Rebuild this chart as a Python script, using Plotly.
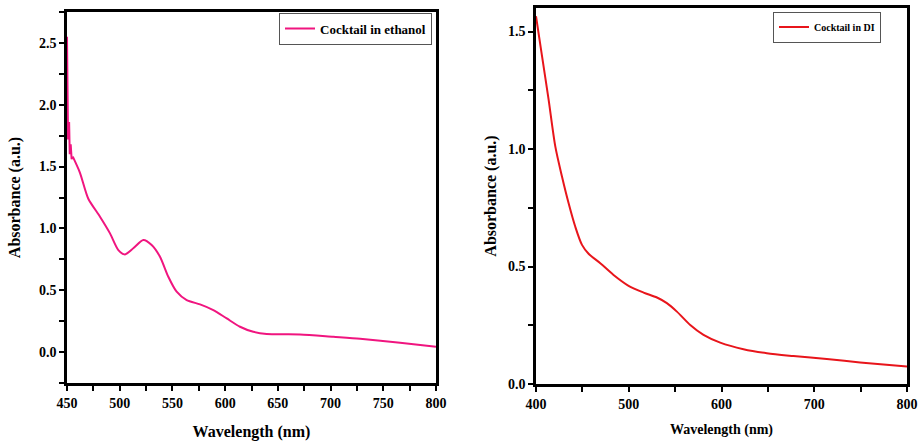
import plotly.graph_objects as go

# Cocktail in ethanol: noisy onset (450-456 nm) and smooth band (455-800 nm)
eth_noise_wl = [450, 450.5, 451, 452, 452.6, 453.5, 454.4, 455.5]
eth_noise_abs = [2.55, 2.2, 1.72, 1.86, 1.6, 1.68, 1.56, 1.58]
eth_wl = [455.5, 462.3, 470.2, 481.3, 490.8, 498.7, 505, 512.9,
          522.4, 530.3, 538.2, 546.1, 554, 563.5, 576.2, 588.8, 601.5, 614.1, 626.7, 639.4, 671,
          702.6, 728, 765.9, 800]
eth_abs = [1.58, 1.45, 1.24, 1.095, 0.96, 0.825, 0.79, 0.839,
           0.906, 0.866, 0.771, 0.609, 0.488, 0.42, 0.386, 0.34, 0.272, 0.205, 0.164, 0.146, 0.143,
           0.124, 0.108, 0.075, 0.043]

# Cocktail in DI
di_wl = [400, 406.5, 413.6, 420.8, 428, 435.1, 442.3, 449.6, 456.7, 469.3, 483.6, 499.8, 516, 530.4,
         541.1, 551.9, 566.3, 580.6, 598.6, 623.7, 648.9, 677.5, 713.5, 749.4, 800]
di_abs = [1.565, 1.395, 1.21, 1.011, 0.883, 0.77, 0.67, 0.592, 0.554, 0.514, 0.464, 0.418, 0.389, 0.368,
          0.344, 0.308, 0.251, 0.209, 0.176, 0.148, 0.131, 0.119, 0.106, 0.092, 0.074]

FONT = "Liberation Serif"
W, H = 923, 442
PINK = "#F0157F"
RED = "#E8151B"


def fx(px):
    return px / W


def fy(py):
    return 1 - py / H


fig = go.Figure()
fig.add_trace(go.Scatter(x=eth_wl, y=eth_abs, mode="lines", name="Cocktail in ethanol",
                         line=dict(color=PINK, width=2, shape="spline", smoothing=0.7),
                         xaxis="x", yaxis="y", legend="legend", showlegend=True))
fig.add_trace(go.Scatter(x=eth_noise_wl, y=eth_noise_abs, mode="lines", name="Cocktail in ethanol",
                         line=dict(color=PINK, width=2), xaxis="x", yaxis="y", showlegend=False))
fig.add_trace(go.Scatter(x=di_wl, y=di_abs, mode="lines", name="Cocktail in DI",
                         line=dict(color=RED, width=2, shape="spline", smoothing=0.8),
                         xaxis="x2", yaxis="y2", legend="legend2", showlegend=True))

axis_common = dict(showline=True, linecolor="black", linewidth=2.5, mirror=True,
                   ticks="outside", ticklen=5, tickwidth=2, tickcolor="black",
                   showgrid=False, zeroline=False, automargin=False,
                   tickfont=dict(family=FONT, size=14, color="black", weight="bold"))
minor_common = dict(ticks="outside", ticklen=5, tickwidth=2, tickcolor="black")

fig.update_layout(
    width=W, height=H,
    margin=dict(l=0, r=0, t=0, b=0, autoexpand=False),
    showlegend=True,
    plot_bgcolor="white", paper_bgcolor="white",
    xaxis=dict(domain=[fx(67), fx(436)], range=[450, 800], dtick=50, anchor="y",
               minor=dict(dtick=25, **minor_common),
               title=dict(text="Wavelength (nm)", standoff=17,
                          font=dict(family=FONT, size=16, color="black", weight="bold")),
               **axis_common),
    yaxis=dict(domain=[fy(383), fy(12)], range=[-0.25, 2.75], dtick=0.5, tick0=0,
               tickformat=".1f", anchor="x",
               minor=dict(dtick=0.25, **minor_common),
               title=dict(text="Absorbance (a.u.)", standoff=15,
                          font=dict(family=FONT, size=16, color="black", weight="bold")),
               **axis_common),
    xaxis2=dict(domain=[fx(536), fx(907)], range=[400, 800], dtick=100, anchor="y2",
                minor=dict(dtick=50, **minor_common),
                title=dict(text="Wavelength (nm)", standoff=14,
                           font=dict(family=FONT, size=14, color="black", weight="bold")),
                **axis_common),
    yaxis2=dict(domain=[fy(384), fy(8)], range=[0, 1.6], dtick=0.5, tick0=0,
                tickformat=".1f", anchor="x2",
                minor=dict(dtick=0.25, **minor_common),
                title=dict(text="Absorbance (a.u.)", standoff=8,
                           font=dict(family=FONT, size=16, color="black", weight="bold")),
                **axis_common),
    legend=dict(x=fx(432), y=fy(28.5), xanchor="right", yanchor="middle",
                bordercolor="#555", borderwidth=1, bgcolor="white",
                font=dict(family=FONT, size=13, color="black", weight="bold"),
                itemwidth=30, tracegroupgap=0),
    legend2=dict(x=fx(881), y=fy(27), xanchor="right", yanchor="middle",
                 bordercolor="#555", borderwidth=1, bgcolor="white",
                 font=dict(family=FONT, size=10, color="black", weight="bold"),
                 itemwidth=30, tracegroupgap=0),
)

fig.write_html("out.html", config={"displayModeBar": False},
               post_script="document.body.style.margin='0px';document.body.style.overflow='hidden';")
